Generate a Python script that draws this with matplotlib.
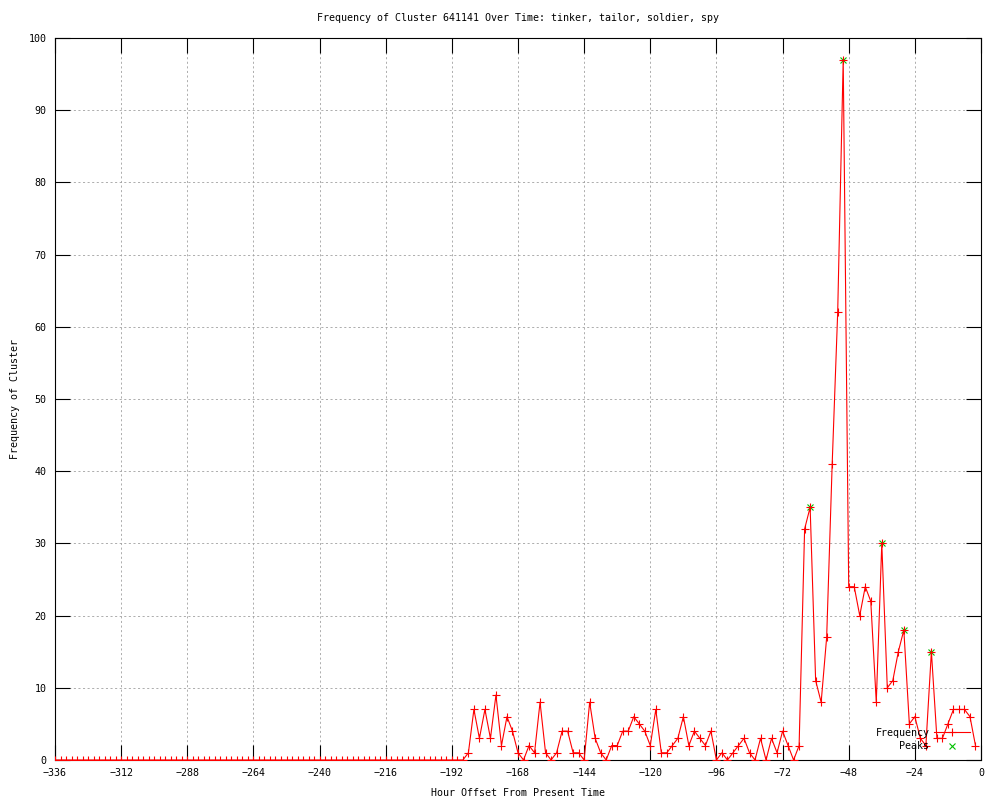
import numpy as np
import matplotlib
matplotlib.use("Agg")
import matplotlib.pyplot as plt

# hours from -336 to -2, every 2 hours
horas = list(range(-336, 0, 2))

# zeros up to -188, then values
freq_inicio = [0] * len(range(-336, -186, 2))
freq_resto = [1, 7, 3, 7, 3, 9, 2, 6, 4, 1,      # -186 .. -168
              0, 2, 1, 8, 1, 0, 1, 4, 4, 1,      # -166 .. -148
              1, 0, 8, 3, 1, 0, 2, 2, 4, 4,      # -146 .. -128
              6, 5, 4, 2, 7, 1, 1, 2, 3, 6,      # -126 .. -108
              2, 4, 3, 2, 4, 0, 1, 0, 1, 2,      # -106 .. -88
              3, 1, 0, 3, 0, 3, 1, 4, 2, 0,      # -86 .. -68
              2, 32, 35, 11, 8, 17, 41, 62, 97, 24,  # -66 .. -48
              24, 20, 24, 22, 8, 30, 10, 11, 15, 18,  # -46 .. -28
              5, 6, 3, 2, 15, 3, 3, 5, 7, 7,     # -26 .. -8
              7, 6, 2]                           # -6 .. -2
frequencia = freq_inicio + freq_resto

pico_horas = [-62, -50, -36, -28, -18]
pico_vals = [35, 97, 30, 18, 15]

xticks = list(range(-336, 1, 24))
yticks = list(range(0, 101, 10))

plt.rcParams['font.family'] = ['DejaVu Sans Mono']
plt.rcParams['font.size'] = 7.2

fig = plt.figure(figsize=(10, 8), dpi=100)
ax = fig.add_axes([0.055, 0.05, 0.926, 0.9025])

ax.plot(pico_horas, pico_vals, linestyle='none', marker='x', color='#00c000',
        markersize=5, markeredgewidth=0.8, label='Peaks', zorder=3)
ax.plot(horas, frequencia, color='red', linewidth=0.8, marker='+',
        markersize=5.5, markeredgewidth=0.8, label='Frequency', zorder=4)

ax.set_xlim(-336, 0)
ax.set_ylim(0, 100)
ax.set_xticks(xticks)
ax.set_yticks(yticks)
ax.grid(True, color='#a0a0a0', linestyle=(0, (2.5, 3)), linewidth=0.6)
ax.tick_params(direction='in', length=11, width=0.8, top=True, right=True,
               pad=6, labelsize=7.2)
for s in ax.spines.values():
    s.set_linewidth(0.8)

ax.set_title('Frequency of Cluster 641141 Over Time: tinker, tailor, soldier, spy',
             fontsize=7.2, pad=12)
ax.set_xlabel('Hour Offset From Present Time', fontsize=7.2, labelpad=7)
ax.set_ylabel('Frequency of Cluster', fontsize=7.2, labelpad=6)

h, l = ax.get_legend_handles_labels()
ax.legend(h[::-1], l[::-1], loc='lower right', bbox_to_anchor=(0.994, 0.005),
          frameon=False, markerfirst=False, handlelength=3.6, handletextpad=0.5,
          borderpad=0, labelspacing=0.35, numpoints=1, fontsize=7.2)

fig.savefig('out.png', dpi=100)
